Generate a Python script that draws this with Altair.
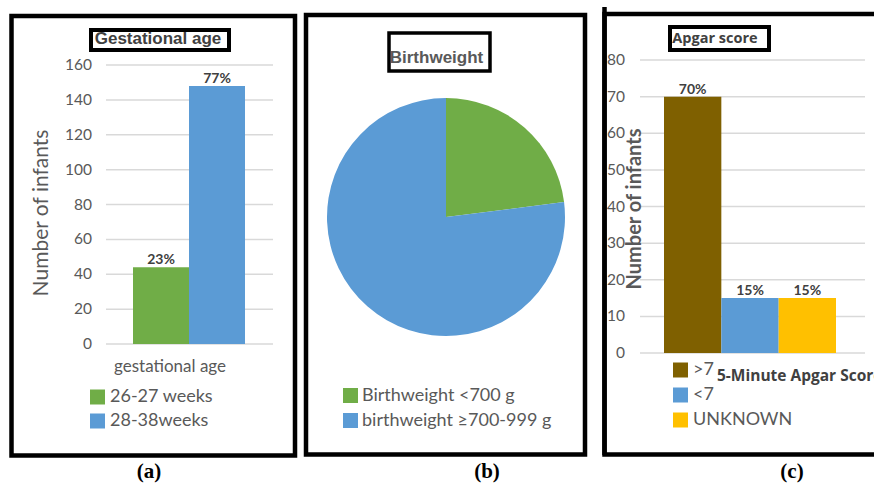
import altair as alt
import pandas as pd

# ---- (a) gestational age ----
ga_groups = ["26-27 weeks", "28-38weeks"]
ga_counts = [44, 148]
ga_labels = ["23%", "77%"]
ga_ticks = [0, 20, 40, 60, 80, 100, 120, 140, 160]
ga_title = "Gestational age"
ga_category = "gestational age"

# ---- (b) birthweight ----
bw_groups = ["Birthweight <700 g", "birthweight \u2265700-999 g"]
bw_share = [23, 77]
bw_title = "Birthweight"

# ---- (c) 5-minute Apgar score ----
ap_groups = [">7", "<7", "UNKNOWN"]
ap_counts = [70, 15, 15]
ap_labels = ["70%", "15%", "15%"]
ap_ticks = [0, 10, 20, 30, 40, 50, 60, 70, 80]
ap_title = "Apgar score"
ap_category = "5-Minute Apgar Score"

y_title = "Number of infants"
panel_tags = ["(a)", "(b)", "(c)"]

GREEN, BLUE, BROWN, YELLOW = "#70AD47", "#5B9BD5", "#7F6000", "#FFC000"
GRAY, DARK, GRID = "#595959", "#404040", "#D9D9D9"
SANS = "Lato"

ga_df = pd.DataFrame({"group": ga_groups, "count": ga_counts, "label": ga_labels})
bw_df = pd.DataFrame({"group": bw_groups, "share": bw_share, "order": list(range(len(bw_groups)))})
ap_df = pd.DataFrame({"group": ap_groups, "count": ap_counts, "label": ap_labels})


def txt(s, x, y, **kw):
    return alt.Chart(pd.DataFrame({"t": [s]})).mark_text(**kw).encode(
        x=alt.value(x), y=alt.value(y), text="t:N")


def box(x1, x2, y1, y2, width, fill=None):
    opts = dict(stroke="black", strokeWidth=width)
    if fill:
        opts["fill"] = fill
    else:
        opts["fillOpacity"] = 0
    return alt.Chart(pd.DataFrame({"k": [0]})).mark_rect(**opts).encode(
        x=alt.value(x1), x2=alt.value(x2), y=alt.value(y1), y2=alt.value(y2))


def bar_panel(df, groups, colors, ticks, ydom, yrange, xrange, grid_x, tick_x,
              legend_x, legend_y, label_x):
    ys = alt.Scale(domain=ydom, range=yrange)
    xs = alt.Scale(domain=groups, range=xrange, paddingInner=0, paddingOuter=0)
    cs = alt.Scale(domain=groups, range=colors)
    tdf = pd.DataFrame({"tick": ticks})
    grid = alt.Chart(tdf).mark_rule(color=GRID, strokeWidth=1.5).encode(
        y=alt.Y("tick:Q", scale=ys, axis=None),
        x=alt.value(grid_x[0]), x2=alt.value(grid_x[1]))
    tick_lbl = alt.Chart(tdf).mark_text(align="right", baseline="middle", font=SANS,
                                        fontSize=15.5, color=GRAY).encode(
        y=alt.Y("tick:Q", scale=ys, axis=None), x=alt.value(tick_x), text="tick:Q")
    bars = alt.Chart(df).mark_bar().encode(
        x=alt.X("group:N", scale=xs, axis=None),
        y=alt.Y("count:Q", scale=ys, axis=None),
        color=alt.Color("group:N", scale=cs, legend=None))
    vals = alt.Chart(df).mark_text(baseline="alphabetic", dy=-3, font=SANS, fontWeight="bold",
                                   fontSize=14, color=DARK).encode(
        x=alt.X("group:N", scale=xs, axis=None),
        y=alt.Y("count:Q", scale=ys, axis=None), text="label:N")
    # legend rows: first and last row centres, evenly spaced between
    ls = alt.Scale(type="point", domain=groups, range=legend_y, padding=0)
    sw = alt.Chart(df).mark_square(size=225, opacity=1).encode(
        x=alt.value(legend_x), y=alt.Y("group:N", scale=ls, axis=None),
        color=alt.Color("group:N", scale=cs, legend=None))
    sl = alt.Chart(df).mark_text(align="left", baseline="middle", font=SANS, fontSize=18,
                                 color=GRAY).encode(
        x=alt.value(label_x), y=alt.Y("group:N", scale=ls, axis=None), text="group:N")
    return [grid, tick_lbl, bars, vals, sw, sl]


layers = []

# (a)
layers += bar_panel(ga_df, ga_groups, [GREEN, BLUE], ga_ticks, [0, 160], [344, 65], [133, 245],
                    (106, 273), 92, 97.5, [397, 421], 110)
layers += [
    txt(ga_category, 170, 367, font=SANS, fontSize=17, color=GRAY, baseline="middle"),
    txt(y_title, 42, 213, font=SANS, fontSize=21, color=GRAY, angle=270, baseline="middle"),
    box(91, 229, 30, 50, 4, fill="white"),
    txt(ga_title, 158, 39, font="Liberation Sans", fontWeight="bold", fontSize=17,
        color=DARK, baseline="middle"),
]

# (b) pie
pie_colors = alt.Scale(domain=bw_groups, range=[GREEN, BLUE])
pie = alt.Chart(bw_df).mark_arc(radius=119).encode(
    theta=alt.Theta("share:Q", stack=True),
    order=alt.Order("order:Q"),
    color=alt.Color("group:N", scale=pie_colors, legend=None),
    x=alt.value(446), y=alt.value(217))
bw_ls = alt.Scale(type="point", domain=bw_groups, range=[395.5, 420.5], padding=0)
bw_sw = alt.Chart(bw_df).mark_square(size=225, opacity=1).encode(
    x=alt.value(350.5), y=alt.Y("group:N", scale=bw_ls, axis=None),
    color=alt.Color("group:N", scale=pie_colors, legend=None))
bw_sl = alt.Chart(bw_df).mark_text(align="left", baseline="middle", font=SANS, fontSize=18,
                                   color=GRAY).encode(
    x=alt.value(362), y=alt.Y("group:N", scale=bw_ls, axis=None), text="group:N")
layers += [
    pie, bw_sw, bw_sl,
    box(389, 490, 33, 71, 3.5, fill="white"),
    txt(bw_title, 436.5, 58, font="Liberation Sans", fontWeight="bold", fontSize=17,
        color=GRAY, baseline="middle"),
]

# (c)
layers += bar_panel(ap_df, ap_groups, [BROWN, BLUE, YELLOW], ap_ticks, [0, 80], [353, 60],
                    [664, 836], (640, 865), 625, 680.5, [370, 420], 693)
layers += [
    txt(y_title, 635, 209, font=SANS, fontWeight="bold", fontSize=20, color=GRAY, angle=270,
        baseline="middle"),
    txt(ap_category, 717, 381, font="Open Sans", fontWeight="bold", fontSize=15.5, color=DARK,
        align="left", baseline="alphabetic"),
    box(670, 769, 27, 50, 4, fill="white"),
    txt(ap_title, 715, 39, font="Open Sans", fontWeight="bold", fontSize=14.5, color=DARK,
        baseline="middle"),
]

# panel frames and tags
layers += [
    box(11.5, 295, 16, 455.5, 4.5),
    box(306, 585, 15, 454.5, 4.5),
    box(604.5, 890, 14, 454.5, 4.5),
    alt.Chart(pd.DataFrame({"k": [0]})).mark_rule(color="black", strokeWidth=4.5).encode(
        x=alt.value(604.5), y=alt.value(7), y2=alt.value(455)),
]
for tag, cx in zip(panel_tags, [149, 487, 792]):
    layers.append(txt(tag, cx, 472, font="Liberation Serif", fontWeight="bold", fontSize=21,
                      color="black", baseline="middle"))

chart = alt.layer(*layers).resolve_scale(
    x="independent", y="independent", color="independent", theta="independent"
).properties(
    width=874, height=483, padding=0, autosize=alt.AutoSizeParams(type="none"),
    background="white"
).configure_view(stroke=None)

chart.save("out.html", embed_options={"renderer": "svg", "actions": False})
